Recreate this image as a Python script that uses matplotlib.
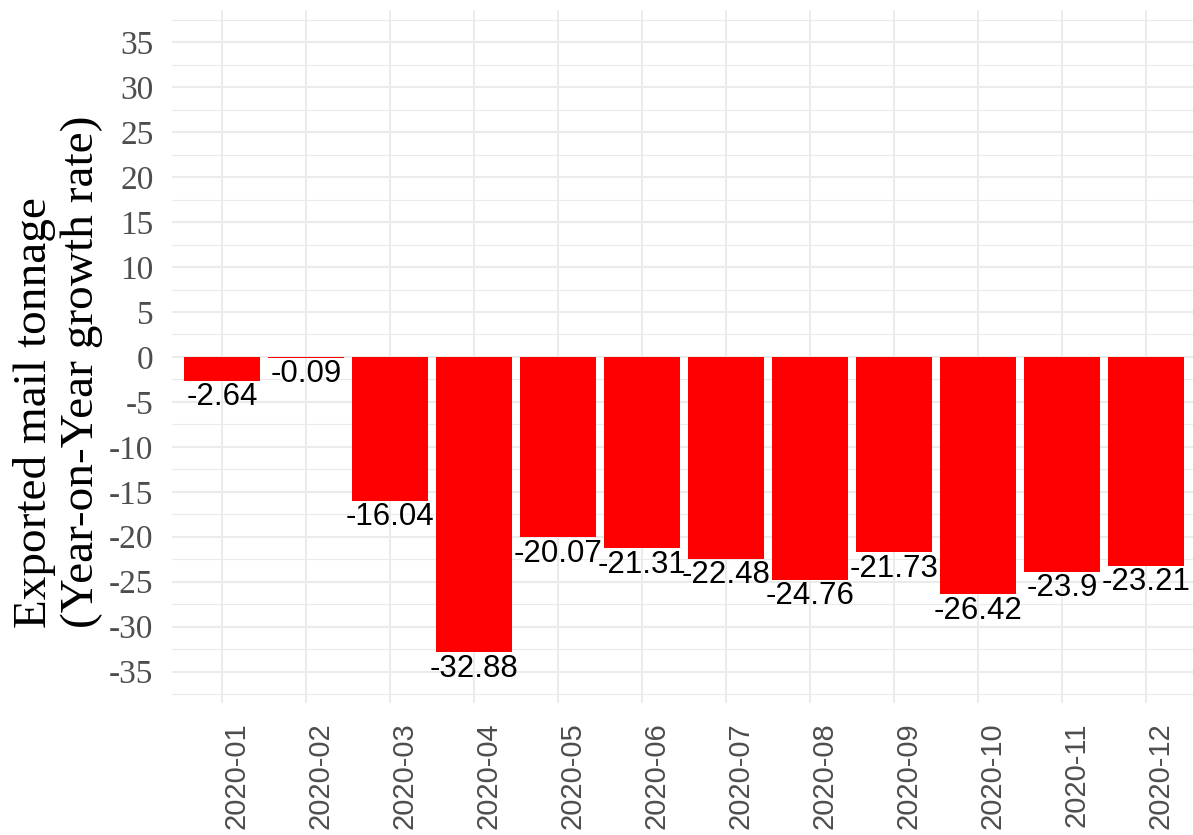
import numpy as np
import matplotlib.pyplot as plt
from matplotlib.ticker import MultipleLocator

# --- data ---
months = ['2020-01', '2020-02', '2020-03', '2020-04', '2020-05', '2020-06',
          '2020-07', '2020-08', '2020-09', '2020-10', '2020-11', '2020-12']
growth = [-2.64, -0.09, -16.04, -32.88, -20.07, -21.31,
          -22.48, -24.76, -21.73, -26.42, -23.9, -23.21]
y_ticks = list(range(-35, 40, 5))

W, H = 1193, 835
fig = plt.figure(figsize=(W / 100, H / 100), dpi=100)

# panel placement (ggplot theme_minimal look)
left_px, right_px, top_px, bottom_px = 171.6, 1196.4, 10, 703
ax = fig.add_axes([left_px / W, 1 - bottom_px / H,
                   (right_px - left_px) / W, (bottom_px - top_px) / H])

x = np.arange(1, len(months) + 1)
ax.bar(x, growth, width=0.9, color='#FF0000', zorder=3)

for xi, v in zip(x, growth):
    ax.text(xi, v - 0.15, f'{v:g}', ha='center', va='top',
            fontsize=22.5, family=['Liberation Sans', 'DejaVu Sans'],
            color='black', zorder=4)

ax.set_xlim(0.4, 12.6)
ax.set_ylim(-38.5, 38.6)
ax.set_xticks(x)
ax.set_xticklabels(months, rotation=90, ha='left', va='top',
                   family=['Liberation Sans', 'DejaVu Sans'],
                   fontsize=21, color='#4D4D4D')
ax.set_yticks(y_ticks)
ax.set_yticklabels([str(t) for t in y_ticks], family=['Liberation Serif', 'DejaVu Serif'],
                   fontsize=24, color='#4D4D4D')
ax.yaxis.set_minor_locator(MultipleLocator(2.5))
ax.tick_params(axis='both', which='both', length=0)
ax.tick_params(axis='y', pad=13)
ax.tick_params(axis='x', pad=14)

ax.grid(True, which='major', color='#EBEBEB', linewidth=1.5, zorder=0)
ax.grid(True, which='minor', axis='y', color='#EBEBEB', linewidth=0.8, zorder=0)
for s in ax.spines.values():
    s.set_visible(False)

fig.text(58 / W, 1 - 372 / H, 'Exported mail tonnage\n(Year-on-Year growth rate)',
         rotation=90, ha='center', va='center', multialignment='left',
         family=['Liberation Serif', 'DejaVu Serif'], fontsize=34, color='black',
         linespacing=1.15)

fig.savefig('out.png', dpi=100)
